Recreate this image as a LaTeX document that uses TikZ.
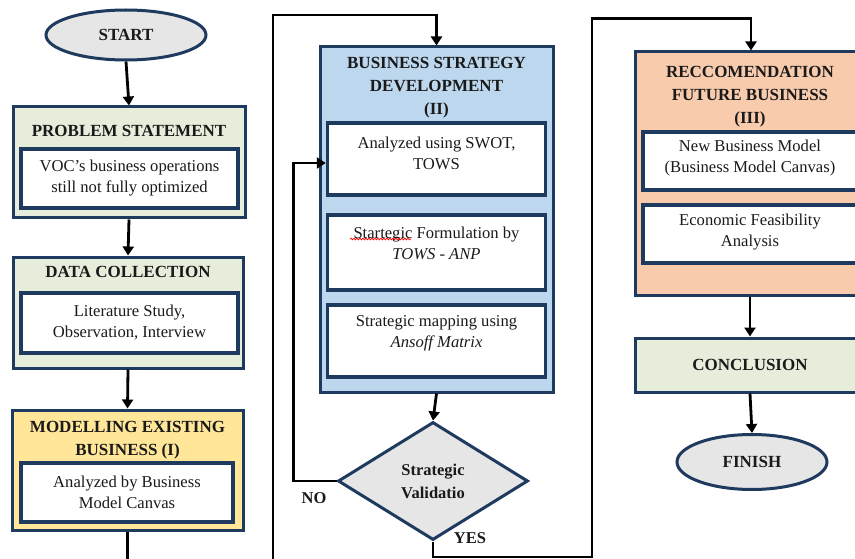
\documentclass[tikz,border=0pt]{standalone}
\usepackage{fontspec}
\setmainfont{Liberation Serif}
\usetikzlibrary{arrows.meta,shapes.geometric,decorations.pathmorphing,calc}
\definecolor{navy}{HTML}{1F3A5F}
\definecolor{gfill}{HTML}{E6EEDB}
\definecolor{yfill}{HTML}{FFE699}
\definecolor{bfill}{HTML}{BDD7EE}
\definecolor{ofill}{HTML}{F8CBAD}
\definecolor{grayfill}{HTML}{E6E6E6}
\definecolor{txtc}{HTML}{1A1A1A}
\tikzset{
  outerbox/.style={draw=navy, line width=3pt, rectangle, inner sep=0pt},
  inbox/.style={draw=navy, line width=3.5pt, fill=white, rectangle, inner sep=0pt, align=center,
    font=\fontsize{16.6}{21}\selectfont, text=txtc},
  ttl/.style={font=\bfseries\fontsize{17}{23}\selectfont, align=center, inner sep=0pt, text=txtc},
  txt/.style={font=\fontsize{16.6}{21}\selectfont, align=center, inner sep=0pt, text=txtc},
  term/.style={ellipse, draw=navy, line width=3pt, fill=grayfill, inner sep=0pt,
    font=\bfseries\fontsize{17}{20}\selectfont, text=txtc},
  arr/.style={draw=black, line width=2.8pt, -{Triangle[length=9pt,width=11pt]}},
  lbl/.style={font=\bfseries\fontsize{16.5}{20}\selectfont, inner sep=0pt, text=txtc}
}
\begin{document}
\begin{tikzpicture}[x=1pt,y=-1pt]
\useasboundingbox (0,0) rectangle (855,559);
\clip (0,0) rectangle (855,559);
\fill[white] (0,0) rectangle (855,559);

% ---------- left column ----------
\node[term, minimum width=160pt, minimum height=50pt] (start) at (126,35) {START};

\node[outerbox, fill=gfill, minimum width=232pt, minimum height=111pt] (prob) at (129,162.5) {};
\node[ttl] (probt) at (129,131) {PROBLEM STATEMENT};
\node[inbox, minimum width=217pt, minimum height=59pt] (probi) at (129.5,178.5)
  {VOC's business operations\\still not fully optimized};

\node[outerbox, fill=gfill, minimum width=230pt, minimum height=111pt] (data) at (128,312.5) {};
\node[ttl] (datat) at (128,272) {DATA COLLECTION};
\node[inbox, minimum width=217pt, minimum height=60pt] (datai) at (129.5,323)
  {Literature Study,\\Observation, Interview};

\node[outerbox, fill=yfill, minimum width=231pt, minimum height=120pt] (mod) at (127.5,470) {};
\node[ttl] (modt) at (127.5,440) {MODELLING EXISTING\\BUSINESS (I)};
\node[inbox, minimum width=212pt, minimum height=59pt] (modi) at (127,492.5)
  {Analyzed by Business\\Model Canvas};

% ---------- middle column ----------
\node[outerbox, fill=bfill, minimum width=233pt, minimum height=345pt] (bsd) at (436.5,219.5) {};
\node[ttl] (bsdt) at (436.5,87.5) {BUSINESS STRATEGY\\DEVELOPMENT\\(II)};
\node[inbox, minimum width=218pt, minimum height=72pt] (b1) at (436.5,159) {};
\node[txt] (b1t) at (436.5,153.5) {Analyzed using SWOT,\\TOWS};
\node[inbox, minimum width=218pt, minimum height=75pt] (b2) at (436.5,252.5) {};
\node[txt] (b2t) at (436.5,243.5) {Startegic Formulation by\\\textit{TOWS - ANP}};
\node[inbox, minimum width=218pt, minimum height=72pt] (b3) at (436.5,341) {};
\node[txt] (b3t) at (436.5,333.5) {Strategic mapping using\\\textit{Ansoff Matrix}};
\draw[red, line width=0.7pt, decorate, decoration={snake, amplitude=0.9pt, segment length=3pt}]
  (350,239) -- (411,239);

\node[diamond, draw=navy, line width=3pt, fill=grayfill, minimum width=190pt, minimum height=118pt,
  aspect=1.61, inner sep=0pt, align=center, font=\bfseries\fontsize{16.5}{23}\selectfont, text=txtc]
  (dia) at (433,481) {Strategic\\Validatio};
\node[lbl] (no) at (314,498) {NO};
\node[lbl] (yes) at (470,538) {YES};

% ---------- right column ----------
\node[outerbox, fill=ofill, minimum width=230pt, minimum height=243pt] (rec) at (750,173.5) {};
\node[ttl] (rect) at (750,97) {RECCOMENDATION\\FUTURE BUSINESS\\(III)};
\node[inbox, minimum width=214pt, minimum height=58pt] (r1) at (750,161) {};
\node[txt] (r1t) at (750,158.5) {New Business Model\\(Business Model Canvas)};
\node[inbox, minimum width=214pt, minimum height=58pt] (r2) at (750,234) {};
\node[txt] (r2t) at (750,232) {Economic Feasibility\\Analysis};

\node[outerbox, fill=gfill, minimum width=230pt, minimum height=54pt, font=\bfseries\fontsize{17}{20}\selectfont, text=txtc]
  (conc) at (750,365) {CONCLUSION};
\node[term, minimum width=150pt, minimum height=55pt] (fin) at (752,462) {FINISH};

% ---------- connectors ----------
\draw[arr] (start.south) -- (prob.north);
\draw[arr] (prob.south) -- (data.north);
\draw[arr] (data.south) -- (mod.north);
\draw[arr] (mod.south) -- ++(0,70) -| (273,15) -| (bsd.north);
\draw[arr] (bsd.south) -- (dia.north);
\draw[arr] (dia.west) -- ++(-43,0) |- ([yshift=-4pt]b1.west);
\draw[arr] (dia.south) |- (592,557) |- ($(rec.north)+(1,-32)$) -- ($(rec.north)+(1,0)$);
\draw[arr] (rec.south) -- (conc.north);
\draw[arr] (conc.south) -- (fin.north);
\end{tikzpicture}
\end{document}
